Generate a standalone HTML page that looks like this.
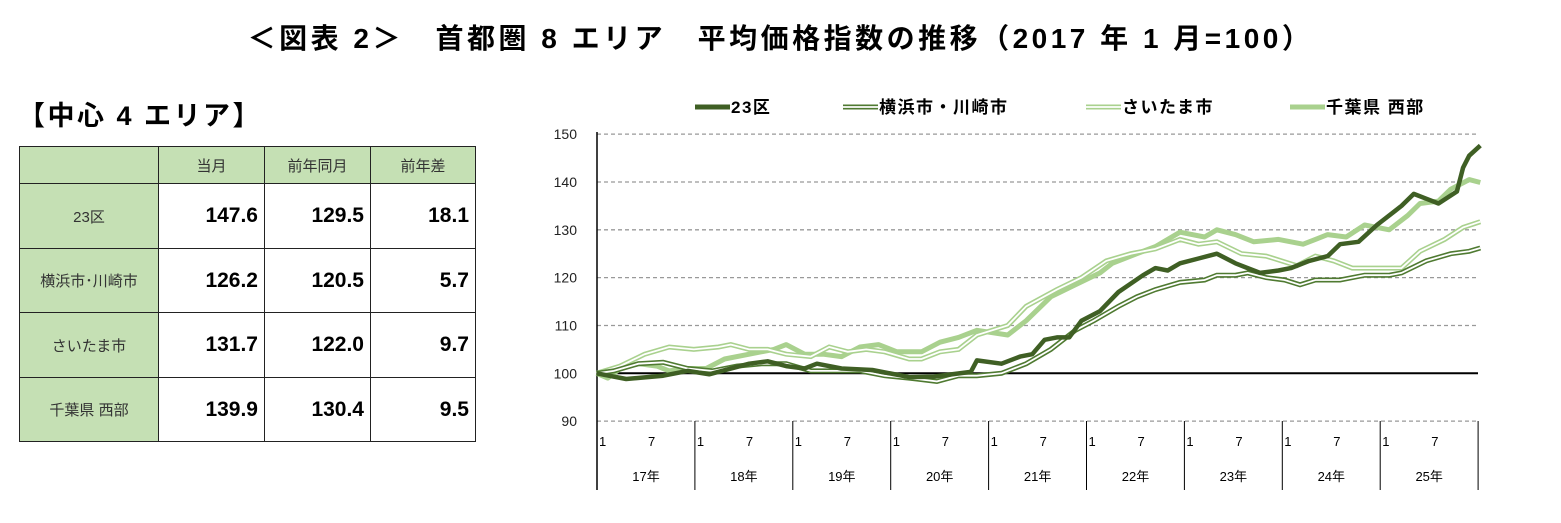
<!DOCTYPE html>
<html><head><meta charset="utf-8"><style>
body{margin:0;background:#fff;width:1561px;height:523px;overflow:hidden;font-family:"Liberation Sans","Noto Sans CJK JP",sans-serif;position:relative}
.t{position:absolute;white-space:nowrap}
table{position:absolute;left:19px;top:146px;border-collapse:collapse}
td{border:1.5px solid #222;padding:0;text-align:center}
.g{background:#c5e0b4;color:#333;font-size:15px}
.n{font-size:21px;font-weight:bold;text-align:right;padding-right:6px}
</style></head><body>
<div class="t" style="left:0;width:1561px;text-align:center;top:17px;font-size:28px;font-weight:bold;letter-spacing:3.5px">＜図表 2＞　首都圏 8 エリア　平均価格指数の推移（2017 年 1 月=100）</div>
<div class="t" style="left:18px;top:94px;font-size:27px;font-weight:bold;letter-spacing:2.5px">【中心 4 エリア】</div>
<table>
<tr style="height:37px"><td class="g" style="width:138px"></td><td class="g" style="width:105px">当月</td><td class="g" style="width:105px">前年同月</td><td class="g" style="width:104px">前年差</td></tr>
<tr style="height:65px"><td class="g">23区</td><td class="n">147.6</td><td class="n">129.5</td><td class="n">18.1</td></tr>
<tr style="height:64px"><td class="g">横浜市･川崎市</td><td class="n">126.2</td><td class="n">120.5</td><td class="n">5.7</td></tr>
<tr style="height:65px"><td class="g">さいたま市</td><td class="n">131.7</td><td class="n">122.0</td><td class="n">9.7</td></tr>
<tr style="height:64px"><td class="g">千葉県 西部</td><td class="n">139.9</td><td class="n">130.4</td><td class="n">9.5</td></tr>
</table>
<svg id="c" width="1561" height="523" style="position:absolute;left:0;top:0" font-family="Liberation Sans,Noto Sans CJK JP,sans-serif"></svg>
<script>
var s=document.getElementById('c'),h='';
function Y(v){return 373.3-(v-100)*4.783}
function X(z){return 540+z/1.625}
for(var v=90;v<=150;v+=10){var y=Y(v);
 if(v!=100)h+='<line x1="597" x2="1478" y1="'+y+'" y2="'+y+'" stroke="#999" stroke-dasharray="4,3" stroke-width="1.3"/>';
 h+='<text x="577" y="'+(y+5)+'" font-size="14" text-anchor="end" fill="#222">'+v+'</text>';}
h+='<line x1="597" x2="1478" y1="'+Y(100)+'" y2="'+Y(100)+'" stroke="#000" stroke-width="2"/>';
h+='<line x1="597" x2="597" y1="132" y2="490" stroke="#000" stroke-width="1.5"/>';
var yr=['17年','18年','19年','20年','21年','22年','23年','24年','25年'];
for(var i=0;i<=9;i++){var x=597+i*97.9;h+='<line x1="'+x+'" x2="'+x+'" y1="421" y2="490" stroke="#000" stroke-width="1"/>';
 if(i<9){h+='<text x="'+(x+2)+'" y="446" font-size="13">1</text><text x="'+(x+51)+'" y="446" font-size="13">7</text><text x="'+(x+49)+'" y="481" font-size="13" text-anchor="middle">'+yr[i]+'</text>';}}
function P(a){var p='';for(var i=0;i<a.length;i+=2)p+=(i?'L':'M')+X(a[i]).toFixed(1)+','+Y(a[i+1]).toFixed(1);return p}
var chiba=[92,100,110,99,130,101,160,102,190,101.5,210,100.5,240,101,270,101,300,103,340,104,380,105,400,106,430,104,460,104,490,103.5,520,105.5,550,106,580,104.5,620,104.5,650,106.5,680,107.5,710,109,760,108,790,111,830,116,870,118.5,910,121,930,123,970,125,1000,126.5,1040,129.5,1080,128.5,1100,130,1130,129,1160,127.5,1200,128,1240,127,1260,128,1280,129,1310,128.5,1340,131,1380,130,1410,133,1430,135.5,1460,136,1480,138.5,1510,140.5,1528,139.9];
var sai=[92,100,130,101.5,170,104,210,105.5,250,105,290,105.5,310,106,340,105,370,105,400,104,440,103.5,470,105.5,500,104.5,530,105,560,104.5,600,103,620,103,650,104.5,680,105,710,108,760,110,790,114,840,117.5,880,120,920,123.5,960,125,1000,126,1040,128,1070,127,1100,127.5,1140,125,1180,124.5,1230,122.5,1260,124.5,1290,123.5,1320,122,1360,122,1400,122,1430,125.5,1470,128,1500,130.5,1528,131.7];
var yoko=[92,100,120,100.5,160,102,200,102.3,240,101,280,100.5,320,101.5,360,102,400,102,440,100.5,480,100.5,520,100.5,560,99.5,600,99,645,98.3,680,99.5,710,99.5,750,100,790,102,830,105,870,109,900,111,940,114,970,116,1000,117.5,1040,119,1080,119.5,1100,120.5,1130,120.5,1150,121,1180,120,1210,119.5,1235,118.5,1260,119.5,1300,119.5,1340,120.5,1380,120.5,1400,121,1440,123.5,1480,125,1510,125.5,1528,126.2];
var ku=[92,100,140,98.8,200,99.5,240,100.5,275,99.8,340,102,370,102.5,400,101.5,430,101,450,102,490,101,540,100.7,600,99.2,640,99.3,700,100.3,710,102.7,750,102,780,103.5,800,104,820,107,840,107.5,860,107.5,880,111,910,113,940,117,980,120.5,1000,122,1020,121.5,1040,123,1070,124,1100,125,1130,123,1150,122,1170,121,1200,121.5,1220,122,1250,123.5,1280,124.5,1300,127,1330,127.5,1360,131,1400,135,1420,137.5,1440,136.5,1460,135.5,1490,138,1500,143,1510,145.5,1528,147.6];
h+='<path d="'+P(chiba)+'" fill="none" stroke="#a9d18e" stroke-width="5" stroke-linejoin="round"/>';
h+='<path d="'+P(sai)+'" fill="none" stroke="#a9d18e" stroke-width="5"/><path d="'+P(sai)+'" fill="none" stroke="#fff" stroke-width="1.8"/>';
h+='<path d="'+P(yoko)+'" fill="none" stroke="#4f7a31" stroke-width="5"/><path d="'+P(yoko)+'" fill="none" stroke="#fff" stroke-width="1.8"/>';
h+='<path d="'+P(ku)+'" fill="none" stroke="#3f5f24" stroke-width="4.5" stroke-linejoin="round"/>';
var ls='font-size="17" font-weight="bold" letter-spacing="1.5"';
h+='<line x1="695" x2="730" y1="107" y2="107" stroke="#3f5f24" stroke-width="5"/><text x="731" y="113" '+ls+'>23区</text>';
h+='<line x1="843" x2="878" y1="107" y2="107" stroke="#4f7a31" stroke-width="5"/><line x1="843" x2="878" y1="107" y2="107" stroke="#fff" stroke-width="1.8"/><text x="879" y="113" '+ls+'>横浜市・川崎市</text>';
h+='<line x1="1086" x2="1121" y1="107" y2="107" stroke="#a9d18e" stroke-width="5"/><line x1="1086" x2="1121" y1="107" y2="107" stroke="#fff" stroke-width="1.8"/><text x="1122" y="113" '+ls+'>さいたま市</text>';
h+='<line x1="1290" x2="1325" y1="107" y2="107" stroke="#a9d18e" stroke-width="5"/><text x="1326" y="113" '+ls+'>千葉県 西部</text>';
s.innerHTML=h;
</script>
</body></html>
